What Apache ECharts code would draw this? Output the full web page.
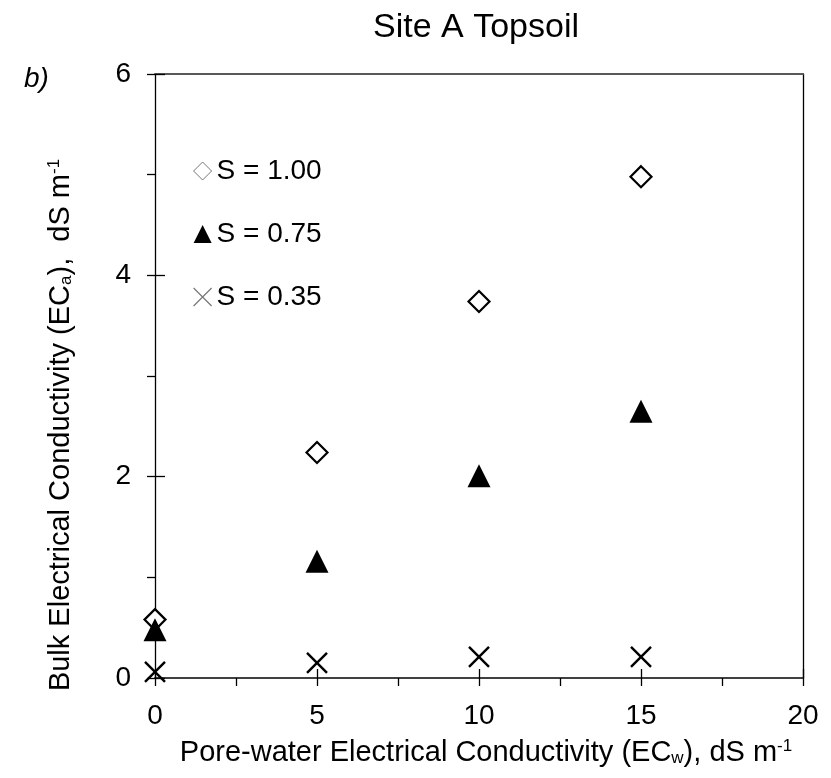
<!DOCTYPE html>
<html>
<head>
<meta charset="utf-8">
<script src="https://cdn.jsdelivr.net/npm/echarts@6/dist/echarts.min.js"></script>
<style>html,body{margin:0;padding:0;background:#fff}#c{width:831px;height:778px}</style>
</head>
<body>
<div id="c"></div>
<script>
var xValues = [0, 5, 10, 15];
var s100 = [0.58, 2.24, 3.74, 4.98];
var s075 = [0.48, 1.16, 2.01, 2.65];
var s035 = [0.06, 0.15, 0.21, 0.21];
var seriesNames = ['S = 1.00', 'S = 0.75', 'S = 0.35'];
var xTicks = [0, 5, 10, 15, 20];
var yTicks = [0, 2, 4, 6];

function pairs(ys) { return xValues.map(function (x, i) { return [x, ys[i]]; }); }

var FONT = 'Liberation Sans, Arial, sans-serif';
var crossPath = 'path://M0,0L10,10M10,0L0,10';
var richSubSup = {
  sub: { fontSize: 17, verticalAlign: 'bottom', fontFamily: FONT, color: '#000' },
  sup: { fontSize: 17, verticalAlign: 'top', fontFamily: FONT, color: '#000' }
};

var chart = echarts.init(document.getElementById('c'), null, { renderer: 'canvas' });
chart.setOption({
  backgroundColor: '#fff',
  animation: false,
  textStyle: { fontFamily: FONT, color: '#000' },
  title: {
    text: 'Site A Topsoil',
    left: 368, top: 6,
    textStyle: { fontFamily: FONT, fontSize: 34, fontWeight: 'normal', color: '#000' }
  },
  graphic: [{
    type: 'text', left: 24, top: 65,
    style: { text: 'b)', font: 'italic 28px Liberation Sans, Arial, sans-serif', fill: '#000' }
  }],
  legend: {
    orient: 'vertical', left: 188, top: 152, itemGap: 35,
    itemWidth: 18, itemHeight: 18, itemStyle: { borderWidth: 1 },
    textStyle: { fontFamily: FONT, fontSize: 28, color: '#000' },
    data: [
      { name: seriesNames[0], icon: 'diamond', itemStyle: { color: 'transparent', borderColor: '#777', borderWidth: 1 } },
      { name: seriesNames[1], icon: 'triangle', itemStyle: { color: '#000', borderWidth: 0 } },
      { name: seriesNames[2], icon: crossPath, itemStyle: { color: 'transparent', borderColor: '#777', borderWidth: 1.2 } }
    ]
  },
  grid: { left: 155, right: 28, top: 74, bottom: 100, containLabel: false },
  xAxis: [{
    type: 'value', min: 0, max: 20, interval: 5, position: 'bottom',
    name: 'Pore-water Electrical Conductivity (EC{sub|w}), dS m{sup|-1}',
    nameLocation: 'middle', nameGap: 60,
    nameTextStyle: { fontFamily: FONT, fontSize: 29, color: '#000', padding: [0, 0, 0, 14], rich: richSubSup },
    axisLine: { show: true, onZero: false, lineStyle: { color: '#404040', width: 2 } },
    axisTick: { show: true, inside: false, length: 8, lineStyle: { color: '#000', width: 1.3 } },
    minorTick: { show: true, splitNumber: 2, length: 8, lineStyle: { color: '#000', width: 1.3 } },
    axisLabel: { margin: 24, fontSize: 28, fontFamily: FONT, color: '#000',
      formatter: function (v) { return xTicks.indexOf(v) >= 0 ? String(v) : ''; } },
    splitLine: { show: false }
  }, {
    type: 'value', min: 0, max: 20, interval: 5, position: 'bottom', gridIndex: 0,
    axisLine: { show: false, onZero: false },
    axisTick: { show: true, inside: true, length: 9, lineStyle: { color: '#000', width: 1.3 } },
    axisLabel: { show: false }, splitLine: { show: false }
  }, {
    type: 'value', min: 0, max: 20, position: 'top',
    axisLine: { show: true, onZero: false, lineStyle: { color: '#595959', width: 2 } },
    axisTick: { show: false }, axisLabel: { show: false }, splitLine: { show: false }
  }],
  yAxis: [{
    type: 'value', min: 0, max: 6, interval: 2, position: 'left',
    name: 'Bulk Electrical Conductivity (EC{sub|a}),  dS m{sup|-1}',
    nameLocation: 'middle', nameRotate: 90, nameGap: 80,
    nameTextStyle: { fontFamily: FONT, fontSize: 29, color: '#000', padding: [0, 98, 0, 0], rich: richSubSup },
    axisLine: { show: true, onZero: false, lineStyle: { color: '#000', width: 1.3 } },
    axisTick: { show: true, inside: false, length: 8, lineStyle: { color: '#000', width: 1.3 } },
    minorTick: { show: true, splitNumber: 2, length: 8, lineStyle: { color: '#000', width: 1.3 } },
    axisLabel: { margin: 24, fontSize: 28, fontFamily: FONT, color: '#000',
      formatter: function (v) { return yTicks.indexOf(v) >= 0 ? String(v) : ''; } },
    splitLine: { show: false }
  }, {
    type: 'value', min: 0, max: 6, interval: 2, position: 'left', gridIndex: 0,
    axisLine: { show: false, onZero: false },
    axisTick: { show: true, inside: true, length: 10, lineStyle: { color: '#000', width: 1.3 } },
    axisLabel: { show: false }, splitLine: { show: false }
  }, {
    type: 'value', min: 0, max: 6, position: 'right',
    axisLine: { show: true, onZero: false, lineStyle: { color: '#000', width: 1.3 } },
    axisTick: { show: false }, axisLabel: { show: false }, splitLine: { show: false }
  }],
  series: [{
    name: seriesNames[0], type: 'scatter', data: pairs(s100),
    symbol: 'diamond', symbolSize: 21,
    itemStyle: { color: '#fff', borderColor: '#000', borderWidth: 2.2, opacity: 1 }, z: 4
  }, {
    name: seriesNames[1], type: 'scatter', data: pairs(s075),
    symbol: 'triangle', symbolSize: 23,
    itemStyle: { color: '#000', borderWidth: 0, opacity: 1 }, z: 5
  }, {
    name: seriesNames[2], type: 'scatter', data: pairs(s035),
    symbol: crossPath, symbolSize: 20,
    itemStyle: { color: 'transparent', borderColor: '#000', borderWidth: 2.4, opacity: 1 }, z: 3
  }]
});
</script>
</body>
</html>
